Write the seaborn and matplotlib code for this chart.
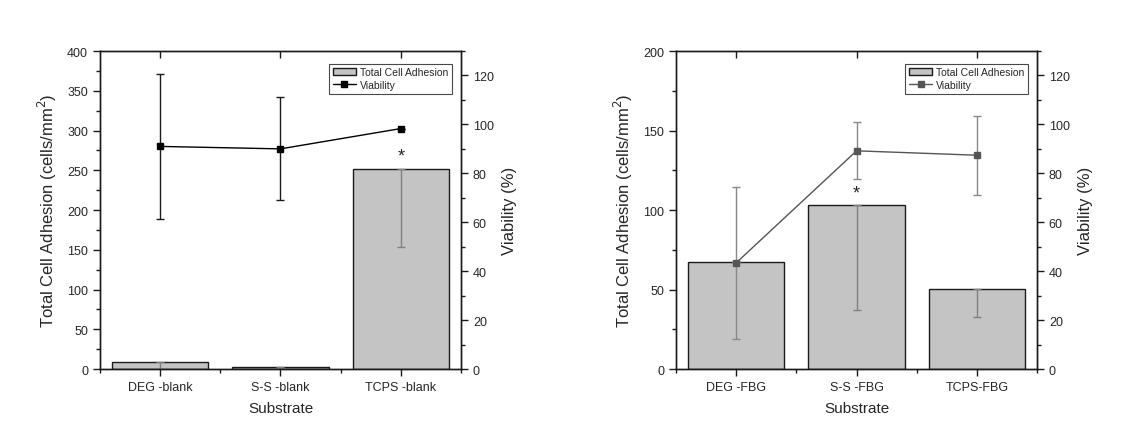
import pandas as pd
import matplotlib
matplotlib.use("Agg")
import matplotlib.pyplot as plt
import seaborn as sns
from matplotlib.ticker import MultipleLocator, FixedLocator
from matplotlib.patches import Patch
from matplotlib.lines import Line2D

# data
blank_labels = ["DEG -blank", "S-S -blank", "TCPS -blank"]
blank_adhesion = [9, 3, 252]
blank_adhesion_err = [9, 3, 99]
blank_viability = [91, 90, 98.3]
blank_viability_err = [29.5, 21, 0]

fbg_labels = ["DEG -FBG", "S-S -FBG", "TCPS-FBG"]
fbg_adhesion = [67, 103, 50.5]
fbg_adhesion_err = [0, 66, 18]
fbg_viability = [43.4, 89.2, 87.4]
fbg_viability_err = [31, 11.6, 16.2]

star_blank = [False, False, True]
star_fbg = [False, True, False]

sns.set_style("ticks")
plt.rcParams["font.family"] = ["Liberation Sans", "DejaVu Sans"]

fig = plt.figure(figsize=(11.4, 4.31), dpi=100)
ax_l = fig.add_axes([0.0877, 0.1415, 0.3167, 0.7378])
ax_r = fig.add_axes([0.5930, 0.1415, 0.3167, 0.7378])

BAR = "#c4c4c4"
INK = "#1a1a1a"


def panel(ax, labels, adh, adh_err, via, via_err, stars, ymax, line_col, err_col):
    df = pd.DataFrame({"Substrate": labels, "Adhesion": adh})
    sns.barplot(data=df, x="Substrate", y="Adhesion", ax=ax, color=BAR,
                edgecolor=INK, linewidth=1.0, width=0.8, saturation=1,
                errorbar=None, zorder=1)
    x = list(range(len(labels)))
    # lower-only error bars on the bars
    ax.errorbar(x, adh, yerr=[adh_err, [0] * len(adh)], fmt="none",
                ecolor="#808080", elinewidth=1.0, capsize=3, capthick=1.0, zorder=2)
    for xi, v, s in zip(x, adh, stars):
        if s:
            ax.text(xi, v + ymax * 0.012, "*", ha="center", va="bottom", fontsize=13)
    ax.set_xlim(-0.5, 2.5)
    ax.set_ylim(0, ymax)
    ax.yaxis.set_major_locator(MultipleLocator(50))
    ax.yaxis.set_minor_locator(MultipleLocator(25))
    ax.xaxis.set_minor_locator(FixedLocator([-0.5, 0.5, 1.5, 2.5]))
    ax.set_xlabel("Substrate", fontsize=11, labelpad=6)
    ax.set_ylabel("Total Cell Adhesion (cells/mm$^2$)", fontsize=12, labelpad=6)
    ax.tick_params(axis="both", which="major", labelsize=9, length=5, width=1, color=INK)
    ax.tick_params(axis="both", which="minor", length=3, width=1, color=INK)
    for sp in ax.spines.values():
        sp.set_visible(True)
        sp.set_linewidth(1.0)
        sp.set_color(INK)

    ax2 = ax.twinx()
    ax2.errorbar(x, via, yerr=via_err, color=line_col, ecolor=err_col,
                 marker="s", markersize=5, linewidth=1.0, elinewidth=1.0,
                 capsize=3, capthick=1.0, zorder=3)
    ax2.set_ylim(0, 130)
    ax2.yaxis.set_major_locator(MultipleLocator(20))
    ax2.yaxis.set_minor_locator(MultipleLocator(10))
    ax2.set_ylabel("Viability (%)", fontsize=12, labelpad=6)
    ax2.tick_params(axis="y", which="major", labelsize=9, length=5, width=1, color=INK)
    ax2.tick_params(axis="y", which="minor", length=3, width=1, color=INK)
    # inward ticks on the top spine at the category centres
    ax2.xaxis.set_visible(True)
    ax2.tick_params(axis="x", which="major", top=True, bottom=False, labeltop=False,
                    labelbottom=False, direction="in", length=5, width=1, color=INK)
    ax2.tick_params(axis="x", which="minor", top=False, bottom=False)
    for sp in ax2.spines.values():
        sp.set_linewidth(1.0)
        sp.set_color(INK)

    handles = [Patch(facecolor=BAR, edgecolor=INK, linewidth=1.0),
               Line2D([0], [0], color=line_col, marker="s", markersize=4, linewidth=1.0)]
    leg = ax2.legend(handles, ["Total Cell Adhesion", "Viability"], loc="upper right",
                     bbox_to_anchor=(0.975, 0.96), fontsize=7.5, frameon=True, fancybox=False,
                     borderpad=0.35, labelspacing=0.25, handlelength=2.2, handletextpad=0.4,
                     borderaxespad=0)
    leg.get_frame().set_edgecolor(INK)
    leg.get_frame().set_linewidth(0.8)
    return ax2


panel(ax_l, blank_labels, blank_adhesion, blank_adhesion_err, blank_viability,
      blank_viability_err, star_blank, 400, "#000000", INK)
panel(ax_r, fbg_labels, fbg_adhesion, fbg_adhesion_err, fbg_viability,
      fbg_viability_err, star_fbg, 200, "#555555", "#888888")

fig.savefig("out.png", dpi=100, facecolor="white")
